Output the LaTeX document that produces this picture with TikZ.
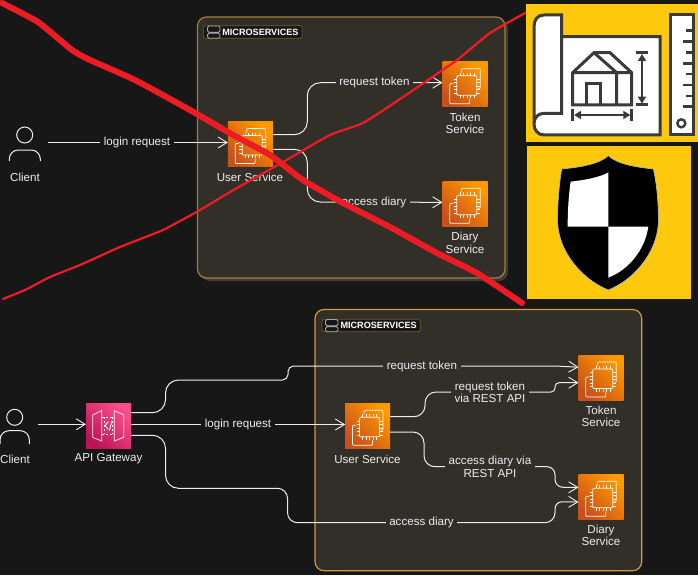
\documentclass[tikz,border=0pt]{standalone}
\usepackage{fontspec}
\setmainfont{Liberation Sans}
\usetikzlibrary{arrows.meta,calc}
\definecolor{bgc}{HTML}{171717}
\definecolor{panelc}{HTML}{322F28}
\definecolor{shadowc}{HTML}{3C3C3C}
\definecolor{borderA}{HTML}{A07E3E}
\definecolor{borderB}{HTML}{CE9A40}
\definecolor{inkc}{HTML}{EDEDED}
\definecolor{orangeD}{HTML}{C8511B}
\definecolor{orangeL}{HTML}{FF9900}
\definecolor{pinkD}{HTML}{BC1356}
\definecolor{pinkL}{HTML}{FF4F8B}
\definecolor{redc}{HTML}{ED1C24}
\definecolor{yellowc}{HTML}{FEC80C}
\definecolor{planc}{HTML}{3A3A3A}
\tikzset{
  x=1pt,y=-1pt,
  panelbox/.style={rounded corners=9pt,fill=panelc,line width=1.2pt},
  tagbox/.style={draw=borderA!70!black,fill=bgc,line width=.7pt,rounded corners=1.5pt,anchor=west,inner xsep=3.5pt,inner ysep=3pt,
    text=white,font=\fontsize{9.1}{11}\selectfont\bfseries},
  conn/.style={draw=inkc,line width=1pt},
  arr/.style={conn,-{Straight Barb[length=9pt,width=11pt,line width=.9pt]}},
  lab/.style={text=inkc,font=\fontsize{11.6}{12.5}\selectfont,align=center,inner sep=0pt},
  edgelab/.style={lab,inner xsep=3.5pt,inner ysep=1.5pt},
  glyph/.style={draw=white!92!orange,line width=.75pt,fill=none,rounded corners=1pt},
  awsbox/.style={minimum size=45pt,inner sep=0pt,outer sep=0pt,bottom color=#1D,top color=#1L,shading angle=-45},
  redthick/.style={draw=redc,line width=6pt,line cap=round,line join=round},
  redthin/.style={draw=redc,line width=2.2pt,line cap=round,line join=round},
  plan/.style={draw=planc,line width=3pt,line join=miter},
  person/.style={circle,draw=inkc,line width=1pt,minimum size=16pt,inner sep=0pt},
}
\newcommand\ecicon[3]{%
  \node[awsbox=orange,name=#1] at (#2+22.7,#3+22.7) {};
  \begin{scope}[shift={(#2,#3)}]
    \draw[glyph] (14.5,14) rectangle (34.5,33.5);
    \draw[glyph] (19,11) -- (19,7) -- (38,7) -- (38,27) -- (35.5,27);
    \draw[glyph] (11,22) -- (7.5,22) -- (7.5,42) -- (27.5,42) -- (27.5,37);
    \foreach \t in {17.5,21,24.5,28,31.5}{
      \draw[white,line width=.5pt] (\t,11) -- (\t,14) (\t,33.5) -- (\t,36.5) (11.5,\t) -- (14.5,\t) (34.5,\t) -- (37.5,\t);
    }
  \end{scope}
}
\newcommand\tagicon[2]{%
  \draw[gray!70,line width=.8pt,rounded corners=1.5pt] (#1,#2) rectangle ++(12.5,6.3) (#1,#2+7.3) rectangle ++(12.5,5);
}
\begin{document}
\begin{tikzpicture}
\fill[bgc] (0,0) rectangle (698,575);
\useasboundingbox (0,0) rectangle (698,575);

% ---- top panel
\fill[shadowc,rounded corners=9pt] (200.5,20) rectangle (508,281);
\draw[panelbox,draw=borderA] (197.5,17) rectangle (505,278);
\node[tagbox] (tagA) at (203,32) {\hspace{15.5pt}MICROSERVICES};
\tagicon{207.5}{26}

\ecicon{userA}{227.7}{121.5}
\ecicon{tokenA}{442.3}{61.7}
\ecicon{diaryA}{442.3}{181.3}

\node[person] (clientA) at (24.7,135) {};
\draw[inkc,line width=1pt,rounded corners=9pt] (9.3,161) -- (9.3,150) -- (40.3,150) -- (40.3,161);
\node[lab] (clientAt) at (25,177) {Client};
\node[lab] (userAt) at (250,177) {User Service};
\node[lab] (tokenAt) at (465,123.5) {Token\\Service};
\node[lab] (diaryAt) at (465,243) {Diary\\Service};

\draw[arr] ([shift={(14.3pt,-7.5pt)}]clientA.east) -- ([yshift=1.7pt]userA.west);
\draw[arr,rounded corners=13pt] ([yshift=9.5pt]userA.east) -- (307.3,134.7) -- (307.3,82.7) -- ([yshift=1.7pt]tokenA.west);
\draw[arr,rounded corners=13pt] ([yshift=-5.2pt]userA.east) -- (307.3,149.3) -- (307.3,202) -- ([yshift=1.7pt]diaryA.west);
\node[edgelab,fill=bgc] (l1) at (137,142.5) {login request};
\node[edgelab,fill=panelc] (l2) at (374.5,82.7) {request token};
\node[edgelab,fill=panelc] (l3) at (374,202) {access diary};

% ---- red strokes
\draw[redthick] plot[smooth,tension=.3] coordinates {(2,3) (38,22) (72,50) (90,60) (135,80) (190,110) (233,135) (270,155) (303,180) (343,203) (390,227) (437,253) (477,273) (522,303)};
\draw[redthin] plot[smooth,tension=.3] coordinates {(3,299) (25,290) (50,277) (80,265) (120,247) (163,230) (200,210) (230,192) (283,162) (330,135) (363,123) (403,97) (457,60) (490,33) (527,12)};

% ---- blueprint
\fill[yellowc] (526,4) rectangle (698,141.7);
\begin{scope}[shift={(520,0)},scale=1/3]
  \filldraw[plan,fill=white] (125,110) -- (420,110) -- (420,405) -- (72,405) .. controls (52,405) and (42,388) .. (42,372) -- (42,80) .. controls (42,60) and (52,45) .. (72,45) -- (125,45) -- (125,340) -- (72,340) .. controls (52,340) and (42,355) .. (42,372);
  \filldraw[plan,fill=white] (450,45) rectangle (520,405);
  \foreach \yy/\xx in {92/498,125/488,157/498,190/488,222/498,255/488,288/498,320/488}{\draw[plan,line width=2.4pt] (520,\yy) -- (\xx,\yy);}
  \draw[plan,line width=2.4pt] (484,370) circle (12);
  \draw[plan] (158,218) -- (222,158) -- (270,158) -- (335,218) -- (335,315) -- (158,315) -- cycle;
  \draw[plan] (158,218) -- (335,218) (222,158) -- (290,218) -- (290,315);
  \draw[plan] (198,315) -- (198,252) -- (242,252) -- (242,315);
  \draw[plan] (348,158) -- (384,158) (348,315) -- (384,315);
  \draw[plan,line width=2.2pt,{Triangle[length=7pt,width=8pt]}-{Triangle[length=7pt,width=8pt]}] (366,162) -- (366,311);
  \draw[plan] (158,328) -- (158,362) (335,328) -- (335,362);
  \draw[plan,line width=2.2pt,{Triangle[length=7pt,width=8pt]}-{Triangle[length=7pt,width=8pt]}] (162,345) -- (331,345);
\end{scope}

% ---- shield
\fill[yellowc] (527,146) rectangle (691,299);
\begin{scope}[shift={(520,140)},scale=1/3]
  \filldraw[black,draw=white!75!black,line width=.6pt] (265,47) .. controls (240,72) and (180,82) .. (125,87) .. controls (118,130) and (112,190) .. (113,250) .. controls (118,340) and (190,420) .. (265,450) .. controls (340,420) and (410,340) .. (415,250) .. controls (416,190) and (410,130) .. (400,87) .. controls (350,82) and (290,72) .. (265,47) -- cycle;
  \fill[white] (152,125) .. controls (195,120) and (240,112) .. (265,97) -- (265,260) -- (143,260) .. controls (143,210) and (146,165) .. (152,125) -- cycle;
  \fill[white] (265,260) -- (385,260) .. controls (375,330) and (325,390) .. (265,413) -- cycle;
\end{scope}

% ---- bottom panel
\draw[panelbox,draw=borderB] (315,309.5) rectangle (641.7,570.7);
\node[tagbox] (tagB) at (321.7,325.5) {\hspace{15pt}MICROSERVICES};
\tagicon{325.5}{319.5}

\ecicon{userB}{345}{403.3}
\ecicon{tokenB}{578.3}{355}
\ecicon{diaryB}{578.3}{474.3}
\node[awsbox=pink,name=api] at (108.5,426) {};
\begin{scope}[shift={(0,340)},scale=1/3,draw=white!90!pink,line width=.7pt]
  \draw (278,225) -- (305,212) -- (305,303) -- (278,292) -- cycle;
  \draw (343,212) -- (371,225) -- (371,292) -- (343,303) -- cycle;
  \draw[line width=.6pt,dash pattern=on 2pt off 2pt] (305,232) -- (343,232) (305,283) -- (343,283) (312,232) -- (312,283) (336,232) -- (336,283);
  \draw[line width=.9pt] (325,245) -- (315,257) -- (325,268) (336,242) -- (328,272);
\end{scope}

\node[person] (clientB) at (14.7,417.3) {};
\draw[inkc,line width=1pt,rounded corners=9pt] (0,444) -- (0,430.7) -- (29.3,430.7) -- (29.3,444);
\node[lab] (clientBt) at (15,459) {Client};
\node[lab] (apit) at (108.5,459) {API Gateway};
\node[lab] (userBt) at (367.5,459) {User Service};
\node[lab] (tokenBt) at (601,416.5) {Token\\Service};
\node[lab] (diaryBt) at (601,535.5) {Diary\\Service};

\draw[arr] ([shift={(14.3pt,-7pt)}]clientB.east) -- ([yshift=1.7pt]api.west);
\draw[arr,rounded corners=13pt] ([yshift=13.3pt]api.east) -- (165.5,412.7) -- (165.5,380) [rounded corners=5.5pt] -- (288,380) -- (288,366) -- (555,366) [sharp corners] -- ([yshift=10.5pt]tokenB.west);
\draw[arr] ([yshift=1.5pt]api.east) -- ([yshift=1.5pt]userB.west);
\draw[arr,rounded corners=13pt] ([yshift=-9.3pt]api.east) -- (165.5,435.3) -- (165.5,488.3) [rounded corners=10pt] -- (287.5,488.3) -- (287.5,522.7) -- (555,522.7) [rounded corners=7pt] -- (555,501.7) [sharp corners] -- ([yshift=-5pt]diaryB.west);
\draw[arr,rounded corners=11pt] ([yshift=9.3pt]userB.east) -- (425,416.7) -- (425,392) [rounded corners=4pt] -- (555,392) -- (555,382.7) [sharp corners] -- ([yshift=-5pt]tokenB.west);
\draw[arr,rounded corners=11pt] ([yshift=-6pt]userB.east) -- (424,432) -- (424,466.7) [rounded corners=8pt] -- (555,466.7) -- (555,487.3) [sharp corners] -- ([yshift=9.7pt]diaryB.west);

\node[edgelab,fill=bgc] (m1) at (238,424.5) {login request};
\node[edgelab,fill=panelc] (m2) at (422,366) {request token};
\node[edgelab,fill=panelc] (m3) at (421.5,522.7) {access diary};
\node[edgelab,fill=panelc] (m4) at (490,392.5) {request token\\via REST API};
\node[edgelab,fill=panelc] (m5) at (490,467) {access diary via\\REST API};
\end{tikzpicture}
\end{document}
